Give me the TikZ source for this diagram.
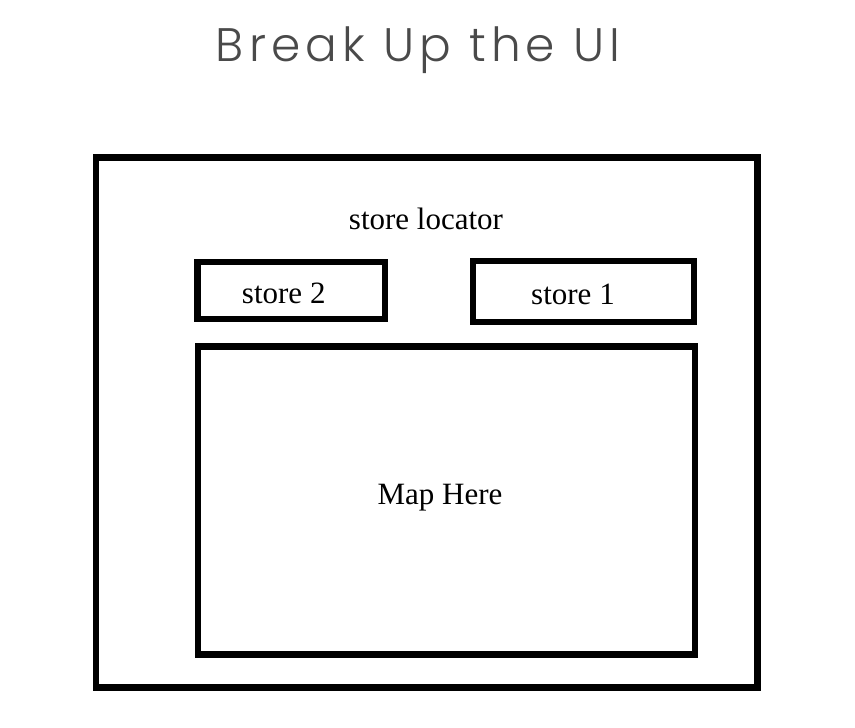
\documentclass[tikz,border=0pt]{standalone}
\usepackage{fontspec}
\setmainfont{Liberation Serif}
\IfFontExistsTF{Poppins Light}
  {\newfontfamily\titlefont[LetterSpace=11]{Poppins Light}}
  {\newfontfamily\titlefont[LetterSpace=11]{Poppins}}
\usetikzlibrary{positioning}

\definecolor{titlegray}{HTML}{4A4A4A}

\begin{document}
\begin{tikzpicture}[
    x=1pt, y=-1pt,
    box/.style={draw=black, line width=6.5pt, rectangle, inner sep=0pt},
    lbl/.style={font=\fontsize{31}{31}\selectfont, inner sep=0pt}
]
\useasboundingbox (0,0) rectangle (855,728);
\node [font=\titlefont\fontsize{47}{47}\selectfont, text=titlegray] (title) at (418,50) {Break Up the UI};

\node [box, minimum width=661.5pt, minimum height=530pt] (locator) at (426.75,422.5) {};
\node [box, minimum width=187.5pt, minimum height=57pt] (s2) at (291.25,290.5) {};
\node [box, minimum width=221pt, minimum height=61pt] (s1) at (583.5,291.5) {};
\node [box, minimum width=497pt, minimum height=308pt] (map) at (446.5,500.5) {};

\node [lbl] (loclbl) at (426,219) {store locator};
\node [lbl] (s2lbl) at ([xshift=-7.5pt, yshift=-3pt]s2.center) {store 2};
\node [lbl] (s1lbl) at ([xshift=-10.5pt, yshift=-3pt]s1.center) {store 1};
\node [lbl] (maplbl) at ([xshift=-6.5pt, yshift=3pt]map.center) {Map Here};
\end{tikzpicture}
\end{document}
